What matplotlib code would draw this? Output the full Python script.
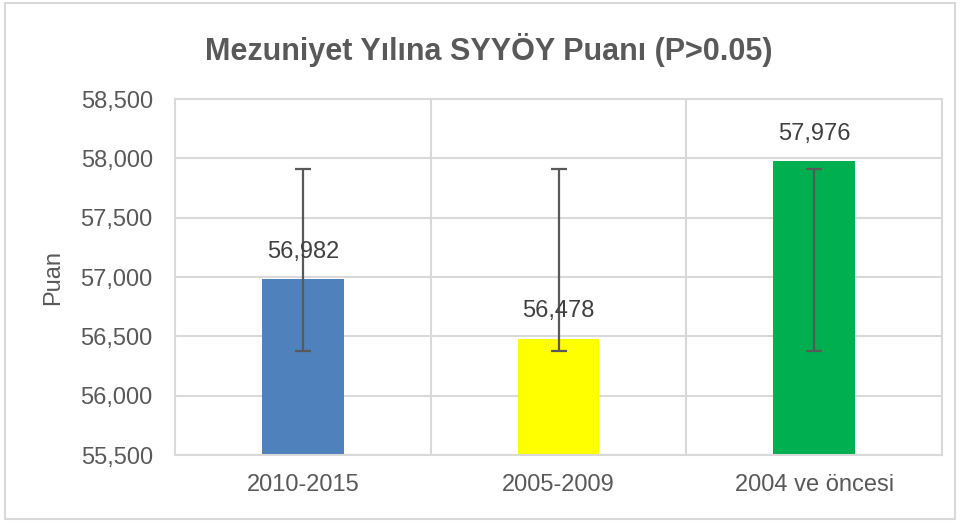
import matplotlib
matplotlib.use("Agg")
import matplotlib.pyplot as plt
from matplotlib import font_manager
from matplotlib.patches import Rectangle

# data
categories = ["2010-2015", "2005-2009", "2004 ve öncesi"]
scores = [56.982, 56.478, 57.976]
err_low = [56.38, 56.38, 56.38]
err_high = [57.91, 57.91, 57.91]
bar_colors = ["#4F81BD", "#FFFF00", "#00B050"]
yticks = [55.5, 56.0, 56.5, 57.0, 57.5, 58.0, 58.5]

names = {f.name for f in font_manager.fontManager.ttflist}
fam = "Liberation Sans Narrow" if "Liberation Sans Narrow" in names else "Liberation Sans"
plt.rcParams['font.family'] = [fam, 'DejaVu Sans']

def fmt(v):
    return f"{v:.3f}".replace(".", ",")

fig = plt.figure(figsize=(9.6, 5.25), dpi=100)
ax = fig.add_axes([0.1823, 0.1333, 0.799, 0.678])

x = list(range(len(categories)))
ax.bar(x, scores, width=0.32, color=bar_colors, zorder=2)

# error bars are the same absolute range for every group
mid = [(lo + hi) / 2 for lo, hi in zip(err_low, err_high)]
half = [(hi - lo) / 2 for lo, hi in zip(err_low, err_high)]
ax.errorbar(x, mid, yerr=half, fmt="none", ecolor="#595959", elinewidth=1.6,
            capsize=6, capthick=1.6, zorder=3)

for xi, v in zip(x, scores):
    ax.annotate(fmt(v), (xi, v), xytext=(0, 12), textcoords="offset points",
                ha="center", va="bottom", fontsize=17, color="#404040", zorder=4)

ax.set_xlim(-0.5, 2.5)
ax.set_ylim(55.5, 58.5)
ax.set_yticks(yticks)
ax.set_yticklabels([fmt(t) for t in yticks])
ax.set_xticks(x)
ax.set_xticklabels(categories)
ax.set_xticks([0.5, 1.5], minor=True)
ax.tick_params(axis="both", which="both", length=0, labelsize=17, labelcolor="#595959")
ax.tick_params(axis="y", pad=16)
ax.tick_params(axis="x", pad=14)
ax.grid(axis="y", color="#D9D9D9", lw=1.5, zorder=0)
ax.grid(axis="x", which="minor", color="#D9D9D9", lw=1.5, zorder=0)
for s in ax.spines.values():
    s.set_color("#D9D9D9")
    s.set_linewidth(1.5)

ax.set_ylabel("Puan", fontsize=17, color="#595959", labelpad=12)
fig.text(0.509, 0.905, "Mezuniyet Yılına SYYÖY Puanı (P>0.05)", ha="center", va="center",
         fontsize=22, fontweight="bold", color="#595959")

fig.patches.append(Rectangle((0.005, 0.012), 0.99, 0.982, transform=fig.transFigure,
                             fill=False, edgecolor="#D9D9D9", lw=1.5))

fig.savefig("out.png", dpi=100, facecolor="white")
